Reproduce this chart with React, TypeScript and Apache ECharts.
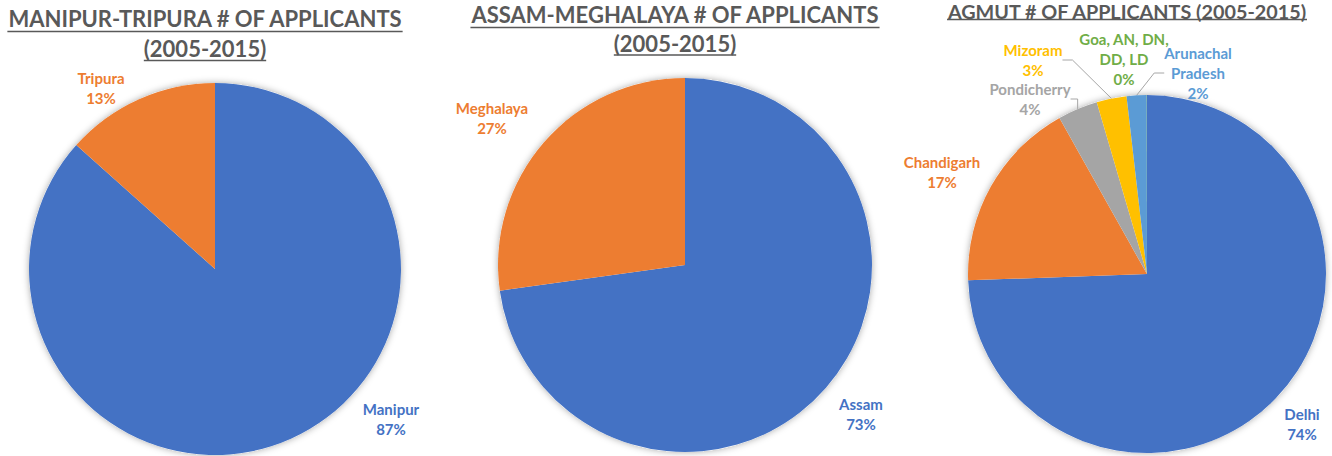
import { useEffect, useRef } from "react";
import * as echarts from "echarts";

// ---------- data ----------
const manipurTripuraNames = ["Manipur", "Tripura"];
const manipurTripuraValues = [86.6, 13.4];

const assamMeghalayaNames = ["Assam", "Meghalaya"];
const assamMeghalayaValues = [72.8, 27.2];

const agmutNames = ["Delhi", "Chandigarh", "Pondicherry", "Mizoram", "Arunachal Pradesh", "Goa, AN, DN, DD, LD"];
const agmutLabels = ["Delhi", "Chandigarh", "Pondicherry", "Mizoram", "Arunachal\nPradesh", "Goa, AN, DN,\nDD, LD"];
const agmutValues = [74.3, 17.4, 3.6, 2.7, 1.8, 0.02];

const titleLines1 = ["MANIPUR-TRIPURA # OF APPLICANTS", "(2005-2015)"];
const titleLines2 = ["ASSAM-MEGHALAYA # OF APPLICANTS", "(2005-2015)"];
const titleLines3 = ["AGMUT # OF APPLICANTS (2005-2015)"];

// ---------- styles / layout ----------
const PALETTE = ["#4472C4", "#ED7D31", "#A5A5A5", "#FFC000", "#5B9BD5", "#70AD47"];
const FONT = "Lato, 'Open Sans', sans-serif";
const TITLE_COLOR = "#595959";
const LABEL_SIZE = 15;

const pies = [
  { center: [215, 269], radius: 186 },
  { center: [685, 265], radius: 187 },
  { center: [1147, 274], radius: 179 },
];

const titleLayout = [
  { cx: 205, size: 22, ys: [18.5, 48.5], ul: [31.5, 60.5] },
  { cx: 675, size: 22, ys: [14, 43], ul: [27.5, 55] },
  { cx: 1127, size: 19.8, ys: [10.5], ul: [19.5] },
];

// label centres per series (by data index)
const labelPos = [
  [[391, 419], [101, 88]],
  [[861, 414], [492, 118]],
  [[1302, 424], [942, 172], [1030, 99], [1033, 60], [1198, 73], [1124, 59]],
];
const agmutLeader = [false, false, true, true, true, false];

function measure(text: string, size: number) {
  const ctx = document.createElement("canvas").getContext("2d")!;
  ctx.font = `bold ${size}px ${FONT}`;
  return ctx.measureText(text).width;
}

function buildSeries(idx: number, names: string[], values: number[], labels: string[], leaders: boolean[]) {
  const p = pies[idx];
  const backdrop = {
    type: "pie",
    silent: true,
    z: 1,
    center: p.center,
    radius: p.radius,
    label: { show: false },
    labelLine: { show: false },
    data: [{ value: 1, itemStyle: { color: "#ffffff", shadowBlur: 7, shadowColor: "rgba(0,0,0,0.35)" } }],
  };
  const main = {
    type: "pie",
    z: 2,
    center: p.center,
    radius: p.radius,
    startAngle: 90,
    clockwise: true,
    percentPrecision: 0,
    avoidLabelOverlap: false,
    data: names.map((n, i) => ({
      name: n,
      value: values[i],
      itemStyle: { color: PALETTE[i] },
      label: { color: PALETTE[i] },
      labelLine: { show: leaders[i], lineStyle: { color: "#A6A6A6", width: 1 } },
    })),
    label: {
      show: true,
      position: "outside",
      formatter: (pr: any) => `${labels[pr.dataIndex]}\n${pr.percent}%`,
      fontFamily: FONT,
      fontWeight: "bold",
      fontSize: LABEL_SIZE,
      lineHeight: 20,
      align: "center",
    },
    labelLine: { length: 10, length2: 10 },
    labelLayout: (pr: any) => {
      const pos = labelPos[idx][pr.dataIndex];
      return { x: pos[0], y: pos[1], align: "center", verticalAlign: "middle" };
    },
  };
  return [backdrop, main];
}

export default function App() {
  const ref = useRef<HTMLDivElement>(null);
  useEffect(() => {
    if (!ref.current) return;
    const chart = echarts.init(ref.current, undefined, { renderer: "svg" });
    const titles = [titleLines1, titleLines2, titleLines3];
    const graphic: any[] = [];
    titles.forEach((lines, t) => {
      const lay = titleLayout[t];
      lines.forEach((line, i) => {
        const w = measure(line, lay.size);
        graphic.push({
          type: "text",
          x: lay.cx,
          y: lay.ys[i],
          style: {
            text: line,
            fill: TITLE_COLOR,
            font: `bold ${lay.size}px ${FONT}`,
            align: "center",
            verticalAlign: "middle",
          },
        });
        graphic.push({
          type: "line",
          shape: { x1: lay.cx - w / 2, y1: lay.ul[i], x2: lay.cx + w / 2, y2: lay.ul[i] },
          style: { stroke: TITLE_COLOR, lineWidth: 1.5 },
        });
      });
    });
    chart.setOption({
      animation: false,
      backgroundColor: "#ffffff",
      graphic,
      series: [
        ...buildSeries(0, manipurTripuraNames, manipurTripuraValues, manipurTripuraNames, [false, false]),
        ...buildSeries(1, assamMeghalayaNames, assamMeghalayaValues, assamMeghalayaNames, [false, false]),
        ...buildSeries(2, agmutNames, agmutValues, agmutLabels, agmutLeader),
      ],
    });
    return () => chart.dispose();
  }, []);
  return <div ref={ref} style={{ position: "absolute", left: 0, top: 0, width: 1332, height: 456 }} />;
}
